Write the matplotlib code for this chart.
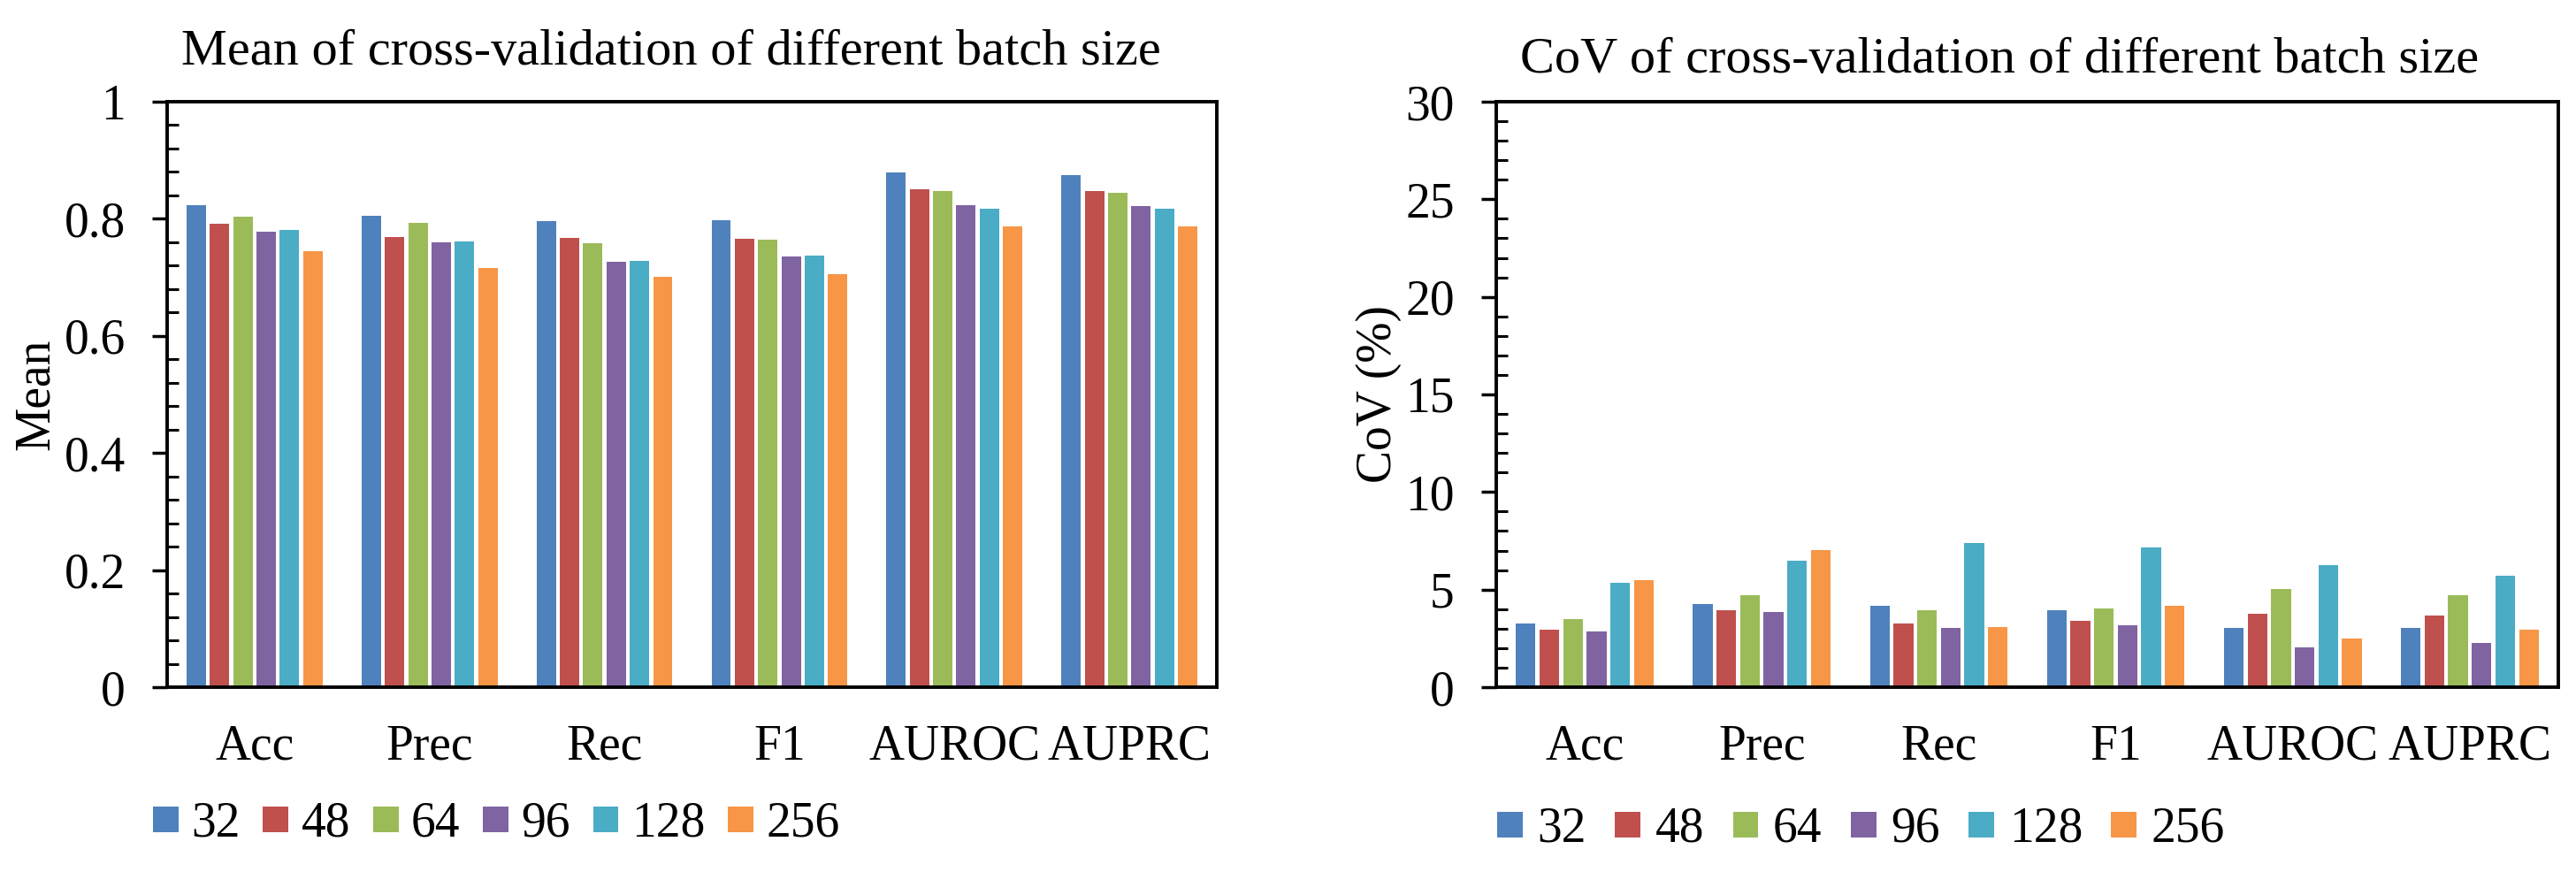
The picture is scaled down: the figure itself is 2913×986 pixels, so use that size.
import numpy as np
import matplotlib
matplotlib.use("Agg")
import matplotlib.pyplot as plt
from matplotlib.ticker import MultipleLocator, FuncFormatter

plt.rcParams['font.family'] = ['Liberation Serif', 'DejaVu Serif']

metrics = ["Acc", "Prec", "Rec", "F1", "AUROC", "AUPRC"]
batch_sizes = ["32", "48", "64", "96", "128", "256"]
colors = ["#4F81BD", "#C0504D", "#9BBB59", "#8064A2", "#4BACC6", "#F79646"]

# mean of cross-validation, one list per batch size (Acc, Prec, Rec, F1, AUROC, AUPRC)
mean_32 = [0.823, 0.805, 0.796, 0.798, 0.879, 0.874]
mean_48 = [0.792, 0.769, 0.767, 0.766, 0.851, 0.848]
mean_64 = [0.803, 0.793, 0.759, 0.764, 0.848, 0.844]
mean_96 = [0.778, 0.760, 0.726, 0.736, 0.823, 0.821]
mean_128 = [0.781, 0.761, 0.728, 0.737, 0.817, 0.817]
mean_256 = [0.744, 0.716, 0.701, 0.705, 0.787, 0.787]

# CoV (%) of cross-validation
cov_32 = [3.28, 4.25, 4.19, 3.94, 3.02, 3.02]
cov_48 = [2.94, 3.96, 3.25, 3.42, 3.74, 3.65]
cov_64 = [3.48, 4.73, 3.96, 4.02, 5.02, 4.71]
cov_96 = [2.85, 3.85, 3.02, 3.19, 2.02, 2.25]
cov_128 = [5.36, 6.47, 7.39, 7.16, 6.25, 5.70]
cov_256 = [5.50, 7.04, 3.08, 4.16, 2.51, 2.94]

means = [mean_32, mean_48, mean_64, mean_96, mean_128, mean_256]
covs = [cov_32, cov_48, cov_64, cov_96, cov_128, cov_256]

W, H = 2913, 986
fig = plt.figure(figsize=(W / 100, H / 100), dpi=100)

FS = 40
x = np.arange(len(metrics))
pitch = 0.1333
bw = 0.111


def draw(ax, series, ymax, major, minor):
    for i, vals in enumerate(series):
        ax.bar(x + (i - 2.5) * pitch, vals, width=bw, color=colors[i],
               label=batch_sizes[i], zorder=2)
    ax.set_xlim(-0.5, len(metrics) - 0.5)
    ax.set_ylim(0, ymax)
    ax.set_xticks(x)
    ax.set_xticklabels(metrics)
    ax.yaxis.set_major_locator(MultipleLocator(major))
    ax.yaxis.set_minor_locator(MultipleLocator(minor))
    ax.yaxis.set_major_formatter(FuncFormatter(lambda v, p: f"{v:g}"))
    for s in ax.spines.values():
        s.set_linewidth(2.8)
    ax.tick_params(axis='x', length=0, pad=30, labelsize=FS)
    ax.tick_params(axis='y', which='major', direction='out', length=12,
                   width=2.5, pad=22, labelsize=FS)
    ax.tick_params(axis='y', which='minor', direction='in', length=9, width=2.2)


ax1 = fig.add_axes([189 / W, 209 / H, 1187 / W, 662 / H])
draw(ax1, means, 1, 0.2, 0.04)
ax1.set_ylabel("Mean", fontsize=FS)
ax1.yaxis.set_label_coords(-0.1028, 0.5)

ax2 = fig.add_axes([1692 / W, 209 / H, 1201 / W, 662 / H])
draw(ax2, covs, 30, 5, 1)
ax2.set_ylabel("CoV (%)", fontsize=FS)
ax2.yaxis.set_label_coords(-0.0891, 0.5)

fig.text(205 / W, 1 - 73 / H, "Mean of cross-validation of different batch size",
         fontsize=42, ha='left', va='baseline')
fig.text(1719 / W, 1 - 82 / H, "CoV of cross-validation of different batch size",
         fontsize=42, ha='left', va='baseline')

h1, l1 = ax1.get_legend_handles_labels()
fig.legend(h1, l1, loc='center left', bbox_to_anchor=(173 / W, 1 - 932 / H),
           ncol=6, frameon=False, fontsize=FS, borderpad=0, borderaxespad=0,
           handlelength=0.52, handleheight=0.42, handletextpad=0.26,
           columnspacing=0.46)
h2, l2 = ax2.get_legend_handles_labels()
fig.legend(h2, l2, loc='center left', bbox_to_anchor=(1693 / W, 1 - 938 / H),
           ncol=6, frameon=False, fontsize=FS, borderpad=0, borderaxespad=0,
           handlelength=0.52, handleheight=0.42, handletextpad=0.3,
           columnspacing=0.58)

fig.savefig("out.png", dpi=100)
